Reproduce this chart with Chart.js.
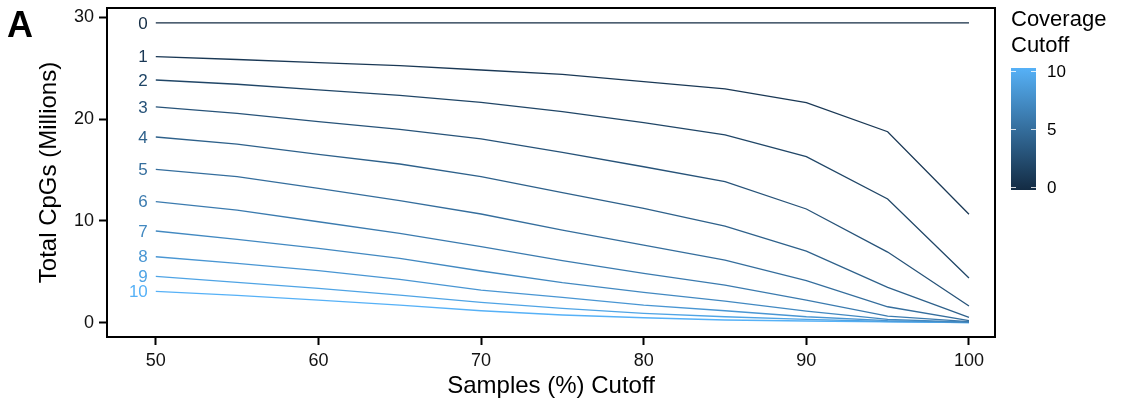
<!DOCTYPE html>
<html>
<head>
<meta charset="utf-8">
<script src="https://cdn.jsdelivr.net/npm/chart.js@4"></script>
<style>
  html, body { margin: 0; padding: 0; background: #fff; }
  #wrap { width: 1125px; height: 410px; position: relative; }
</style>
</head>
<body>
<div id="wrap"><canvas id="myChart" width="1125" height="410"></canvas></div>
<script>
const samplesCutoff = [50, 55, 60, 65, 70, 75, 80, 85, 90, 95, 100];
const coverageCutoffs = [0, 1, 2, 3, 4, 5, 6, 7, 8, 9, 10];
const xTicks = [50, 60, 70, 80, 90, 100];
const yTicks = [0, 10, 20, 30];
const legendTicks = [0, 5, 10];

// total CpGs (millions) per coverage cutoff, one value per samples cutoff
const cov0 = [29.44, 29.44, 29.44, 29.44, 29.44, 29.44, 29.44, 29.44, 29.44, 29.44, 29.44];
const cov1 = [26.13, 25.85, 25.55, 25.25, 24.82, 24.40, 23.67, 22.96, 21.61, 18.76, 10.65];
const cov2 = [23.84, 23.42, 22.86, 22.33, 21.65, 20.73, 19.65, 18.44, 16.31, 12.15, 4.39];
const cov3 = [21.19, 20.57, 19.75, 19.00, 18.05, 16.74, 15.32, 13.85, 11.17, 6.94, 1.64];
const cov4 = [18.24, 17.55, 16.54, 15.59, 14.34, 12.77, 11.24, 9.50, 7.04, 3.48, 0.53];
const cov5 = [15.07, 14.34, 13.20, 11.99, 10.68, 9.10, 7.63, 6.16, 4.13, 1.57, 0.20];
const cov6 = [11.89, 11.07, 9.92, 8.78, 7.47, 6.09, 4.85, 3.70, 2.23, 0.66, 0.10];
const cov7 = [9.01, 8.19, 7.31, 6.33, 5.08, 3.93, 2.99, 2.13, 1.15, 0.33, 0.05];
const cov8 = [6.48, 5.83, 5.11, 4.26, 3.21, 2.49, 1.74, 1.18, 0.59, 0.20, 0.03];
const cov9 = [4.56, 3.97, 3.38, 2.72, 2.00, 1.41, 0.92, 0.59, 0.33, 0.12, 0.02];
const cov10 = [3.08, 2.69, 2.23, 1.74, 1.18, 0.76, 0.49, 0.27, 0.17, 0.08, 0.01];
const cpgs = [cov0, cov1, cov2, cov3, cov4, cov5, cov6, cov7, cov8, cov9, cov10];

const font = '"Liberation Sans", Arial, sans-serif';
const low = [19, 43, 67];     // #132B43
const high = [86, 177, 247];  // #56B1F7

function covColor(v) {
  const t = v / 10;
  const c = low.map((l, i) => Math.round(l + (high[i] - l) * t));
  return `rgb(${c[0]}, ${c[1]}, ${c[2]})`;
}

const datasets = coverageCutoffs.map((cov, i) => ({
  label: String(cov),
  data: samplesCutoff.map((s, j) => ({ x: s, y: cpgs[i][j] })),
  borderColor: covColor(cov),
  borderWidth: 1.3,
  pointRadius: 0,
  tension: 0,
  fill: false
}));

const extras = {
  id: 'extras',
  afterDraw(chart) {
    const ctx = chart.ctx;
    const a = chart.chartArea;
    const xs = chart.scales.x;
    const ys = chart.scales.y;
    ctx.save();

    // panel border
    ctx.strokeStyle = '#000';
    ctx.lineWidth = 2;
    ctx.strokeRect(a.left, a.top, a.right - a.left, a.bottom - a.top);

    // line labels at the left end
    ctx.font = `17px ${font}`;
    ctx.textAlign = 'right';
    ctx.textBaseline = 'middle';
    chart.data.datasets.forEach((ds) => {
      ctx.fillStyle = ds.borderColor;
      ctx.fillText(ds.label, xs.getPixelForValue(samplesCutoff[0]) - 8, ys.getPixelForValue(ds.data[0].y) + 1);
    });

    // axis titles
    ctx.fillStyle = '#000';
    ctx.font = `24px ${font}`;
    ctx.textAlign = 'center';
    ctx.fillText('Samples (%) Cutoff', (a.left + a.right) / 2, 386);
    ctx.save();
    ctx.translate(49, (a.top + a.bottom) / 2);
    ctx.rotate(-Math.PI / 2);
    ctx.fillText('Total CpGs (Millions)', 0, 0);
    ctx.restore();

    // panel tag
    ctx.font = `bold 36px ${font}`;
    ctx.textAlign = 'left';
    ctx.textBaseline = 'alphabetic';
    ctx.fillText('A', 7, 37);

    // colour bar legend
    ctx.font = `22px ${font}`;
    ctx.fillText('Coverage', 1011, 26);
    ctx.fillText('Cutoff', 1011, 52);
    const bx = 1011, bw = 25, top = 68, bottom = 190;
    const grad = ctx.createLinearGradient(0, bottom, 0, top);
    grad.addColorStop(0, covColor(0));
    grad.addColorStop(1, covColor(10));
    ctx.fillStyle = grad;
    ctx.fillRect(bx, top, bw, bottom - top);
    ctx.strokeStyle = 'rgba(255,255,255,0.8)';
    ctx.lineWidth = 1;
    ctx.font = `17px ${font}`;
    ctx.textBaseline = 'middle';
    legendTicks.forEach((v) => {
      const y = Math.round(bottom - 3 - (bottom - top - 6) * v / 10) + 0.5;
      ctx.beginPath();
      ctx.moveTo(bx, y); ctx.lineTo(bx + 5, y);
      ctx.moveTo(bx + bw - 5, y); ctx.lineTo(bx + bw, y);
      ctx.stroke();
      ctx.fillStyle = '#000';
      ctx.fillText(String(v), 1047, y + 1);
    });
    ctx.restore();
  }
};

const ctx = document.getElementById('myChart');
const myChart = new Chart(ctx, {
  type: 'line',
  data: { datasets: datasets },
  options: {
    responsive: false,
    animation: false,
    layout: { padding: { left: 0, top: 8, right: 130, bottom: 0 } },
    scales: {
      x: {
        type: 'linear',
        min: 47,
        max: 101.6,
        afterBuildTicks: (scale) => { scale.ticks = xTicks.map(v => ({ value: v })); },
        afterFit: (scale) => { scale.height = 73; },
        ticks: { font: { family: font, size: 18 }, color: '#111', padding: 5, maxRotation: 0 },
        grid: { drawOnChartArea: false, tickLength: 8, tickColor: '#000', tickWidth: 2 },
        border: { display: false }
      },
      y: {
        min: -1.4,
        max: 30.91,
        afterBuildTicks: (scale) => { scale.ticks = yTicks.map(v => ({ value: v })); },
        afterFit: (scale) => { scale.width = 107; scale.paddingTop = 0; scale.paddingBottom = 0; },
        ticks: { font: { family: font, size: 18 }, color: '#111', padding: 5 },
        grid: { drawOnChartArea: false, tickLength: 8, tickColor: '#000', tickWidth: 2 },
        border: { display: false }
      }
    },
    plugins: {
      legend: { display: false },
      tooltip: { enabled: false }
    }
  },
  plugins: [extras]
});
</script>
</body>
</html>
